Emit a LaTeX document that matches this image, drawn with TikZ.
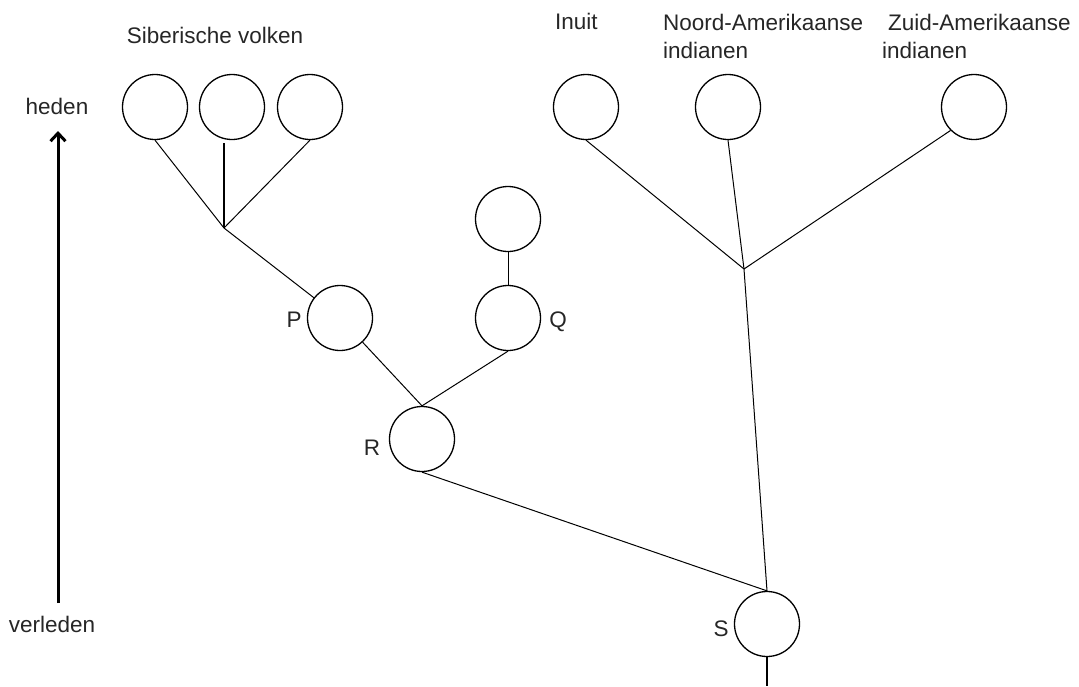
\documentclass[tikz,border=0pt]{standalone}
\usepackage{fontspec}
\setmainfont{Liberation Sans}
\usetikzlibrary{arrows.meta}
\begin{document}
\begin{tikzpicture}[x=1pt,y=1pt]
\tikzstyle{every node}+=[inner sep=0pt, text=black!85, font=\fontsize{22.5}{28}\selectfont]
\tikzstyle{pop}=[draw, circle, minimum size=65pt, line width=1.3pt]
\tikzstyle{tak}=[line width=1pt]
\tikzstyle{stam}=[line width=2.2pt]
\useasboundingbox (0,0) rectangle (1079,-686);
% tijdas
\coordinate (past) at (58,-603);
\coordinate (now) at (58,-131);
\draw[line width=3pt, -{Straight Barb[length=8pt,width=15pt]}] (past) -- (now);
\draw (57,-114) node[anchor=base] (heden) {heden};
\draw (52,-632) node[anchor=base] (verleden) {verleden};
% populaties
\node[pop] (s1) at (155,-107) {};
\node[pop] (s2) at (232,-107) {};
\node[pop] (s3) at (310,-107) {};
\node[pop] (inuit) at (586,-107) {};
\node[pop] (noord) at (728,-107) {};
\node[pop] (zuid) at (974,-107) {};
\node[pop] (top) at (508,-219) {};
\node[pop] (p) at (340,-318) {};
\node[pop] (q) at (508,-318) {};
\node[pop] (r) at (422,-439) {};
\node[pop] (s) at (767,-624) {};
\coordinate (js) at (224,-228);
\coordinate (ja) at (744,-269);
\coordinate (send) at (767,-686);
% labels
\draw (215,-43) node[anchor=base] (sib) {Siberische volken};
\draw (555,-29) node[anchor=base west] (lbinuit) {Inuit};
\draw (663,-13.5) node[anchor=north west, align=left] (lbnoord) {Noord-Amerikaanse\\indianen};
\draw (882,-13.5) node[anchor=north west, align=left] (lbzuid) {\hspace*{6pt}Zuid-Amerikaanse\\indianen};
\draw (294,-327) node[anchor=base] (lbp) {P};
\draw (558,-327) node[anchor=base] (lbq) {Q};
\draw (372,-455) node[anchor=base] (lbr) {R};
\draw (721,-636) node[anchor=base] (lbs) {S};
% takken
\draw[tak] (s1.south) -- (js);
\draw[stam] (js) -- ([yshift=-3pt]js |- s2.south);
\draw[tak] (s3.south) -- (js);
\draw[tak] (js) -- (p);
\draw[tak] (p) -- (r.north);
\draw[tak] (q.south) -- (r.north);
\draw[tak] (top) -- (q);
\draw[tak] (r.south) -- (s.north);
\draw[tak] (s.north) -- (ja);
\draw[tak] (ja) -- (inuit.south);
\draw[tak] (ja) -- (noord.south);
\draw[tak] (ja) -- (zuid.south west);
\draw[stam] (s.south) -- (send);
\end{tikzpicture}
\end{document}
